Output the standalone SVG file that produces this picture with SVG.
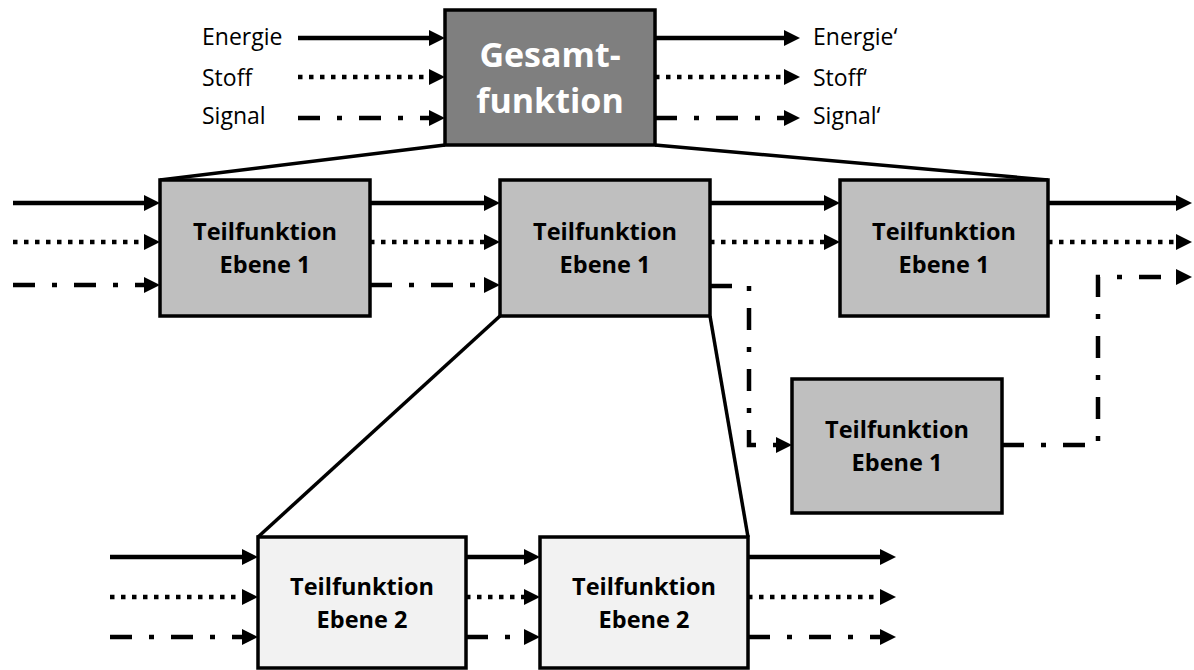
<svg xmlns="http://www.w3.org/2000/svg" width="1194" height="670" viewBox="0 0 1194 670">
  <style>
    .box { stroke: #000; stroke-width: 3.5; }
    .lvl0 { fill: #7f7f7f; }
    .lvl1 { fill: #bfbfbf; }
    .lvl2 { fill: #f2f2f2; }
    .t0 { font-family: "Open Sans", "Liberation Sans", sans-serif; font-weight: bold; font-size: 34px; fill: #fff; text-anchor: middle; }
    .t1 { font-family: "Open Sans", "Liberation Sans", sans-serif; font-weight: bold; font-size: 23.5px; fill: #000; text-anchor: middle; }
    .lbl { font-family: "Open Sans", "Liberation Sans", sans-serif; font-size: 23px; fill: #000; }
    .flow { fill: none; stroke: #000; stroke-width: 4.5; marker-end: url(#ah); }
    .solid { }
    .dot { stroke-dasharray: 4.5 6.5; }
    .dashdot { stroke-dasharray: 22 17 5 17; }
    .link { fill: none; stroke: #000; stroke-width: 3.5; }
  </style>
  <defs>
    <marker id="ah" viewBox="0 0 16 16" markerWidth="16" markerHeight="16" refX="4" refY="8" orient="auto" markerUnits="userSpaceOnUse">
      <path d="M0,0 L16,8 L0,16 z" fill="#000"/>
    </marker>
  </defs>

  <rect width="1194" height="670" fill="#fff"/>

  <!-- decomposition lines (hierarchy) -->
  <g id="hierarchy">
    <path class="link" d="M445,145 L160,180"/>
    <path class="link" d="M655,145 L1048,180"/>
    <path class="link" d="M500,316 L258,537"/>
    <path class="link" d="M710,316 L748,537"/>
  </g>

  <!-- flows: energy (solid), material (dotted), signal (dash-dot) -->
  <g id="connectors">
    <!-- top level inputs/outputs -->
    <path class="flow solid" d="M298,38 H433"/>
    <path class="flow dot" d="M298,77 H433"/>
    <path class="flow dashdot" d="M298,118 H433"/>
    <path class="flow solid" d="M655,38 H788"/>
    <path class="flow dot" d="M655,77 H788"/>
    <path class="flow dashdot" d="M655,118 H788"/>

    <!-- level 1 -->
    <path class="flow solid" d="M13,203 H148"/>
    <path class="flow dot" d="M13,242 H148"/>
    <path class="flow dashdot" d="M13,285 H148"/>
    <path class="flow solid" d="M370,203 H488"/>
    <path class="flow dot" d="M370,242 H488"/>
    <path class="flow dashdot" d="M370,285 H488"/>
    <path class="flow solid" d="M710,203 H828"/>
    <path class="flow dot" d="M710,242 H828"/>
    <path class="flow solid" d="M1048,203 H1180"/>
    <path class="flow dot" d="M1048,242 H1180"/>
    <path class="flow dashdot" d="M710,286 H749 V445 H780"/>
    <path class="flow dashdot" d="M1002,445 H1098 V277 H1180"/>

    <!-- level 2 -->
    <path class="flow solid" d="M110,557 H246"/>
    <path class="flow dot" d="M110,597 H246"/>
    <path class="flow dashdot" d="M110,637 H246"/>
    <path class="flow solid" d="M466,557 H528"/>
    <path class="flow dot" d="M466,597 H528"/>
    <path class="flow dashdot" d="M466,637 H528"/>
    <path class="flow solid" d="M748,557 H884"/>
    <path class="flow dot" d="M748,597 H884"/>
    <path class="flow dashdot" d="M748,637 H884"/>
  </g>

  <!-- flow labels -->
  <g id="labels-in">
    <text class="lbl" x="202" y="45">Energie</text>
    <text class="lbl" x="202" y="86">Stoff</text>
    <text class="lbl" x="202" y="124">Signal</text>
  </g>
  <g id="labels-out">
    <text class="lbl" x="813" y="45">Energie‘</text>
    <text class="lbl" x="813" y="86">Stoff‘</text>
    <text class="lbl" x="813" y="124">Signal‘</text>
  </g>

  <!-- overall function -->
  <g id="gesamtfunktion">
    <rect class="box lvl0" x="445" y="10" width="210" height="135"/>
    <text class="t0" x="550" y="67">Gesamt-</text>
    <text class="t0" x="550" y="113">funktion</text>
  </g>

  <!-- level 1 sub-functions -->
  <g id="tf1-a">
    <rect class="box lvl1" x="160" y="180" width="210" height="136"/>
    <text class="t1" x="265" y="240">Teilfunktion</text>
    <text class="t1" x="265" y="273">Ebene 1</text>
  </g>
  <g id="tf1-b">
    <rect class="box lvl1" x="500" y="180" width="210" height="136"/>
    <text class="t1" x="605" y="240">Teilfunktion</text>
    <text class="t1" x="605" y="273">Ebene 1</text>
  </g>
  <g id="tf1-c">
    <rect class="box lvl1" x="840" y="180" width="208" height="136"/>
    <text class="t1" x="944" y="240">Teilfunktion</text>
    <text class="t1" x="944" y="273">Ebene 1</text>
  </g>
  <g id="tf1-d">
    <rect class="box lvl1" x="792" y="379" width="210" height="134"/>
    <text class="t1" x="897" y="438">Teilfunktion</text>
    <text class="t1" x="897" y="471">Ebene 1</text>
  </g>

  <!-- level 2 sub-functions -->
  <g id="tf2-a">
    <rect class="box lvl2" x="258" y="537" width="208" height="131"/>
    <text class="t1" x="362" y="595">Teilfunktion</text>
    <text class="t1" x="362" y="628">Ebene 2</text>
  </g>
  <g id="tf2-b">
    <rect class="box lvl2" x="540" y="537" width="208" height="131"/>
    <text class="t1" x="644" y="595">Teilfunktion</text>
    <text class="t1" x="644" y="628">Ebene 2</text>
  </g>
</svg>
